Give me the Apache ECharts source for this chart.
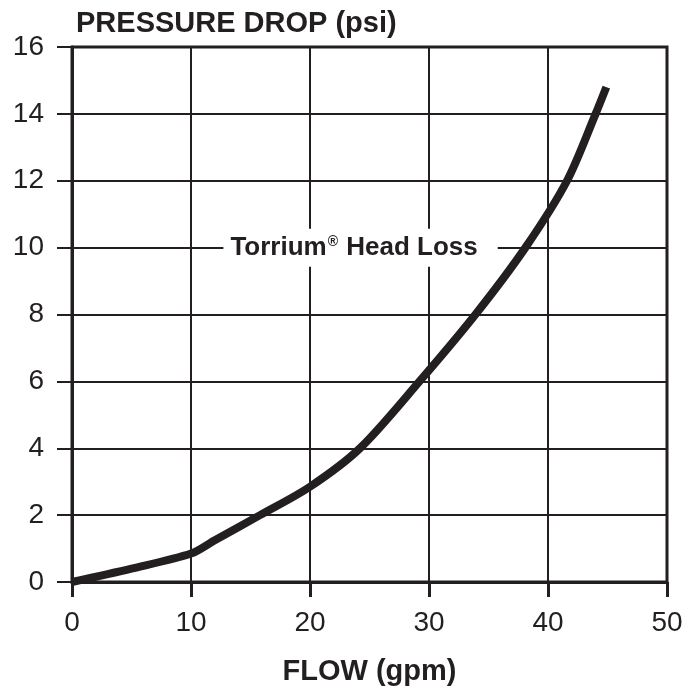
<!DOCTYPE html>
<html>
<head>
<meta charset="utf-8">
<script src="https://cdn.jsdelivr.net/npm/echarts@6/dist/echarts.min.js"></script>
<style>
  html, body { margin: 0; padding: 0; background: #fff; }
  #chart { width: 697px; height: 689px; }
</style>
</head>
<body>
<div id="chart"></div>
<script>
// flow (gpm) vs pressure drop (psi)
var flow = [0, 5, 10, 12, 15.8, 20, 24.2, 29.2, 33.9, 38.1, 41.6, 44, 44.9];
var pressureDrop = [0, 0.4, 0.85, 1.25, 2, 2.85, 4, 6, 8, 10, 12, 14, 14.8];
var xTicks = [0, 10, 20, 30, 40, 50];
var yTicks = [0, 2, 4, 6, 8, 10, 12, 14, 16];
var seriesName = 'Torrium';

var ink = '#231f20';
var font = 'Liberation Sans, Arial, sans-serif';

var chart = echarts.init(document.getElementById('chart'));

var points = flow.map(function (f, i) { return [f, pressureDrop[i]]; });

chart.setOption({
  animation: false,
  title: {
    text: 'PRESSURE DROP (psi)',
    left: 71,
    top: 4,
    textStyle: { fontFamily: font, fontSize: 29, fontWeight: 'bold', color: ink },
  },
  grid: {
    left: 72,
    right: 30,
    top: 47,
    bottom: 107,
    outerBoundsMode: 'none',
    show: true,
    borderColor: ink,
    borderWidth: 3,
  },
  xAxis: {
    type: 'value',
    min: xTicks[0],
    max: xTicks[xTicks.length - 1],
    interval: 10,
    name: 'FLOW (gpm)',
    nameLocation: 'middle',
    nameGap: 75,
    nameTextStyle: { fontFamily: font, fontSize: 29, fontWeight: 'bold', color: ink },
    axisLine: { lineStyle: { color: ink, width: 3 } },
    axisTick: { show: true, length: 15, lineStyle: { color: ink, width: 3 } },
    axisLabel: { fontFamily: font, fontSize: 28, color: ink, margin: 27 },
    splitLine: { show: true, lineStyle: { color: ink, width: 2 } },
  },
  yAxis: {
    type: 'value',
    min: yTicks[0],
    max: yTicks[yTicks.length - 1],
    interval: 2,
    axisLine: { show: true, lineStyle: { color: ink, width: 3 } },
    axisTick: { show: true, length: 15, lineStyle: { color: ink, width: 2 } },
    axisLabel: { fontFamily: font, fontSize: 28, color: ink, margin: 28 },
    splitLine: { show: true, lineStyle: { color: ink, width: 2 } },
  },
  series: [
    {
      name: seriesName,
      type: 'line',
      data: points,
      smooth: 0.3,
      showSymbol: false,
      lineStyle: { color: ink, width: 8, cap: 'butt' },
      markPoint: {
        symbol: 'rect',
        symbolSize: 0,
        data: [{ coord: [24.25, 10] }],
        label: {
          show: true,
          position: 'inside',
          formatter: '{a|' + seriesName + '}{s|®}{a| Head Loss}',
          backgroundColor: '#fff',
          padding: [6, 20, 6, 7],
          rich: {
            a: { fontFamily: font, fontSize: 26, fontWeight: 'bold', color: ink },
            s: { fontFamily: font, fontSize: 14, fontWeight: 'bold', color: ink, padding: [0, 1, 11, 1] },
          },
        },
      },
    },
  ],
});
</script>
</body>
</html>
